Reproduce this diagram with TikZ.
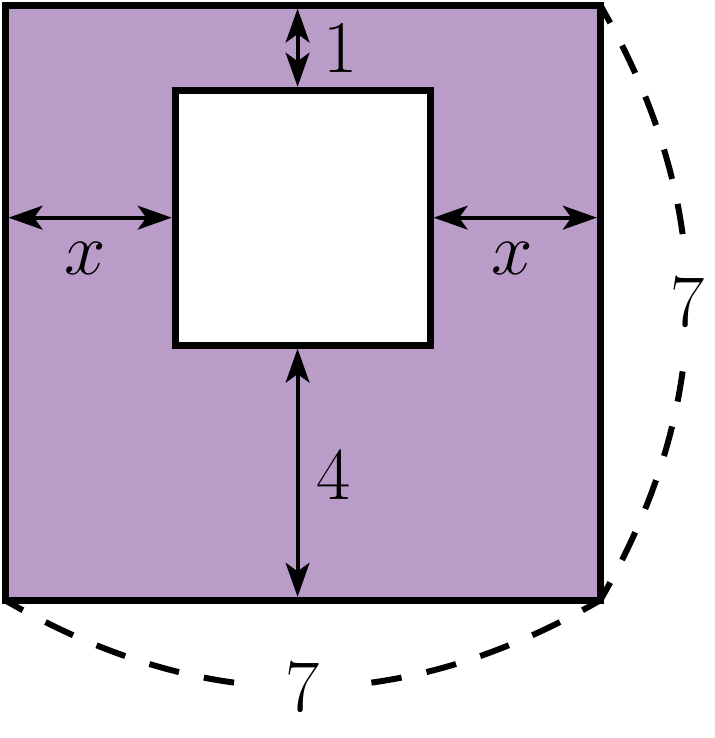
\documentclass[tikz,border=0pt]{standalone}
\usepackage{tikz}
\usetikzlibrary{arrows.meta,positioning}
\definecolor{lilac}{RGB}{186,156,201}
\tikzset
{
	outerbox/.style = {rectangle, draw=black, fill=lilac, line width=2.3pt, minimum size=7cm, outer sep=0pt, inner sep=0pt},
	innerbox/.style = {rectangle, draw=black, fill=white, line width=2.3pt, minimum size=3cm, outer sep=0pt, inner sep=0pt},
	dimarrow/.style = {line width=1.3pt, {Stealth[length=0.4cm,width=0.28cm,inset=0.1cm]}-{Stealth[length=0.4cm,width=0.28cm,inset=0.1cm]}, shorten <=0.04cm, shorten >=0.04cm},
	dimlabel/.style = {font=\fontsize{31}{37}\selectfont, inner sep=0pt},
	sidecurve/.style = {line width=2pt, dash pattern=on 0.36cm off 0.3cm, dash phase=0.12cm},
	lenlabel/.style = {font=\fontsize{31}{37}\selectfont, fill=white, inner sep=9.5pt}
}

\begin{document}
\begin{tikzpicture}
	\useasboundingbox (0,0) rectangle (8.4,-8.68);
	% squares
	\node[outerbox] (outer) at (3.56,-3.56) {};
	\node[innerbox] (inner) at (3.56,-2.56) {};
	\coordinate (axis) at (3.5,0);
	% dimension arrows
	\draw[dimarrow] (outer.west |- inner.west) -- (inner.west);
	\draw[dimarrow] (inner.east) -- (outer.east |- inner.east);
	\draw[dimarrow] (axis |- outer.north) -- (axis |- inner.north);
	\draw[dimarrow] (axis |- inner.south) -- (axis |- outer.south);
	\node[dimlabel] (xleft) at (1.0,-3.04) {$x$};
	\node[dimlabel] (xright) at (6.02,-3.04) {$x$};
	\node[dimlabel] (one) at (4.0,-0.57) {$1$};
	\node[dimlabel] (four) at (3.92,-5.59) {$4$};
	% side lengths
	\draw[sidecurve] (outer.north east) to[bend left=30] node[lenlabel] (sideright) {$7$} (outer.south east);
	\draw[sidecurve] (outer.south west) to[bend right=30] node[lenlabel] (sidebottom) {$7$} (outer.south east);
\end{tikzpicture}
\end{document}
